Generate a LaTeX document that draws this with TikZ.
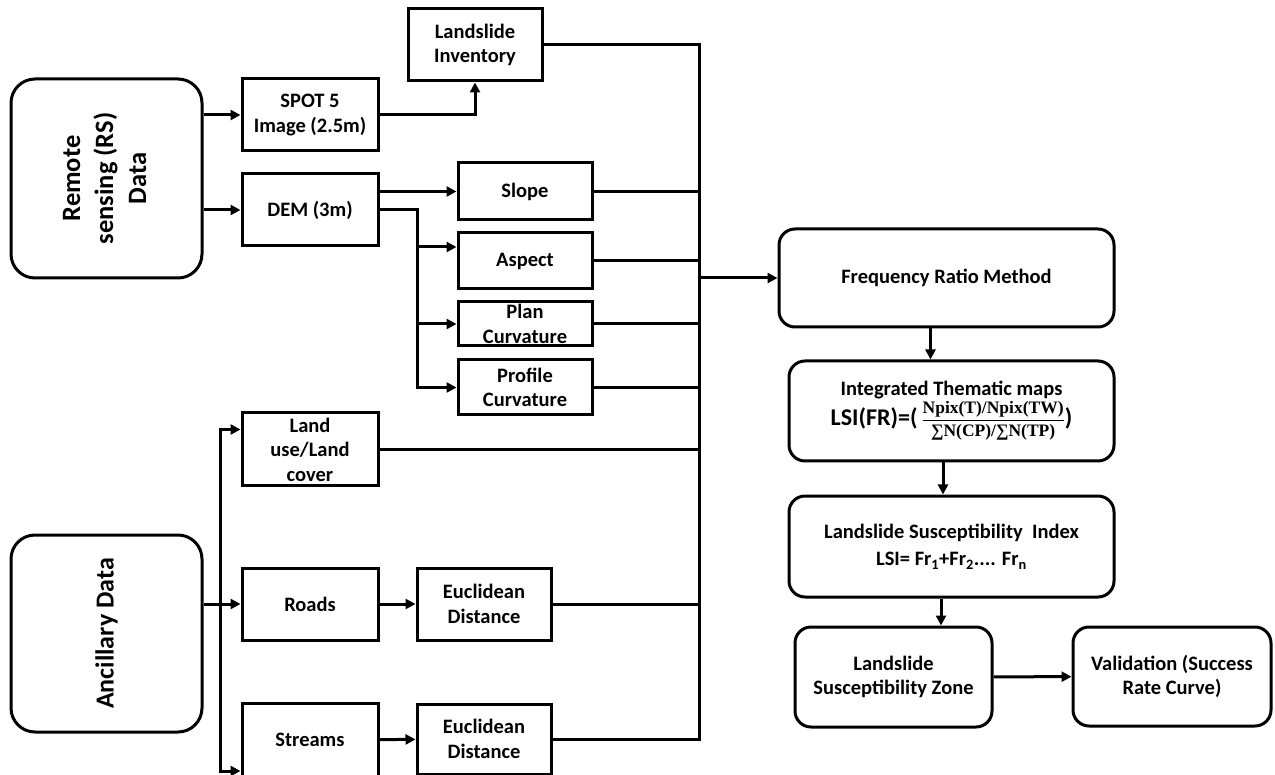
\documentclass[tikz,border=0pt]{standalone}
\usepackage{amsmath,amssymb}
\usepackage[no-math]{fontspec}
\setmainfont{Carlito}
\newfontfamily\fracfont{Liberation Serif}
\usepackage{graphicx}
\usetikzlibrary{arrows.meta}

\begin{document}
\begin{tikzpicture}[x=1pt,y=-1pt,line width=3pt,
    every node/.style={font=\bfseries\fontsize{20.5}{24.5}\selectfont},
    box/.style={draw,line width=3pt,inner sep=0pt,align=center,minimum width=136pt,minimum height=72pt},
    rbox/.style={box,rounded corners=16pt},
    arr/.style={-{Triangle[length=10pt,width=10pt]}}]
    \useasboundingbox (0,0) rectangle (1275,775);
    \node[rbox,rounded corners=24pt,minimum width=191pt,minimum height=199pt] (rs) at (106.5,178.5)
        {\fontsize{26.5}{33}\selectfont\rotatebox{90}{\begin{tabular}{@{}c@{}}Remote\\sensing (RS)\\Data\end{tabular}}};
    \node[rbox,rounded corners=24pt,minimum width=191pt,minimum height=197pt] (anc) at (106.5,633.5)
        {\fontsize{26}{33}\selectfont\rotatebox{90}{Ancillary Data}};
    \node[box] (spot) at (310,115) {SPOT 5\\Image (2.5m)};
    \node[box] (dem) at (310,210) {DEM (3m)};
    \node[box,minimum width=134pt] (inv) at (475,45) {Landslide\\Inventory};
    \node[box,minimum width=134pt,minimum height=57pt] (slope) at (525,191.5) {Slope};
    \node[box,minimum width=134pt,minimum height=56pt] (aspect) at (525,261) {Aspect};
    \node[box,minimum width=134pt,minimum height=44pt] (plan) at (525,324) {Plan\\Curvature};
    \node[box,minimum width=134pt,minimum height=55pt] (profile) at (525,387.5) {Profile\\Curvature};
    \node[box,minimum height=73pt] (landuse) at (310,449.5) {Land\\use/Land\\cover};
    \node[box] (roads) at (310,604) {Roads};
    \node[box,minimum height=74pt] (streams) at (310,740) {Streams};
    \node[box,minimum width=134pt] (euc1) at (484,604) {Euclidean\\Distance};
    \node[box,minimum width=134pt,minimum height=70pt] (euc2) at (484,739) {Euclidean\\Distance};
    \node[rbox,minimum width=335pt,minimum height=98pt] (freq) at (946.5,278) {Frequency Ratio Method};
    \node[rbox,minimum width=325pt,minimum height=100pt] (integ) at (951.5,411)
        {Integrated Thematic maps\\[1pt]{\fontsize{24}{28}\selectfont LSI(FR)=(\,}%
        {\fontsize{17.5}{20}\selectfont$\dfrac{\text{\fracfont\bfseries Npix(T)/Npix(TW)}}{\text{\fracfont\bfseries ∑N(CP)/∑N(TP)}}$}%
        {\fontsize{24}{28}\selectfont)}};
    \node[rbox,minimum width=325pt,minimum height=101pt] (lsi) at (951.5,546.5)
        {Landslide Susceptibility\ \ Index\\[3pt]LSI= Fr\textsubscript{1}+Fr\textsubscript{2}.... Fr\textsubscript{n}};
    \node[rbox,minimum width=197pt,minimum height=100pt] (zone) at (893.5,677) {Landslide\\Susceptibility Zone};
    \node[rbox,minimum width=198pt,minimum height=99pt] (valid) at (1172,676.5) {Validation (Success\\Rate Curve)};

    \coordinate (bustop) at (699,45);
    \coordinate (busbot) at (699,739);
    \coordinate (demsplit) at (417,210);
    \coordinate (ancsplit) at (220,604);
    \coordinate (aspin) at ([yshift=14pt]aspect.west);
    \coordinate (luin) at ([yshift=20pt]landuse.west);
    \coordinate (stin) at ([yshift=-31pt]streams.west);
    \coordinate (fi) at ([xshift=-16pt]freq.south);
    \coordinate (il) at ([xshift=-8.5pt]integ.south);
    \coordinate (lz) at ([xshift=-10.5pt]lsi.south);

    \draw[arr] (rs.east |- spot) -- (spot.west);
    \draw[arr] (rs.east |- dem) -- (dem.west);
    \draw[arr] (spot.east) -| (inv.south);
    \draw[arr] (dem.east |- slope) -- (slope.west);
    \draw[arr] (dem.east) -- (demsplit) |- (profile.west);
    \draw[arr] (demsplit |- aspin) -- (aspin);
    \draw[arr] (demsplit |- plan) -- (plan.west);
    \draw[arr] (anc.east |- roads) -- (roads.west);
    \draw[arr] (ancsplit) |- (luin);
    \draw[arr] (ancsplit) |- (stin);
    \draw[arr] (roads) -- (euc1);
    \draw[arr] (streams) -- (euc2);
    \draw (inv.east) -- (bustop) -- (busbot) -- (euc2.east);
    \foreach \n in {slope,aspect,plan,profile,landuse,euc1}
        \draw (\n.east) -- (\n.east -| bustop);
    \draw[arr] (bustop |- freq) -- (freq.west);
    \draw[arr] (fi) -- (fi |- integ.north);
    \draw[arr] (il) -- (il |- lsi.north);
    \draw[arr] (lz) -- (lz |- zone.north);
    \draw[arr] (zone) -- (valid);
\end{tikzpicture}
\end{document}
